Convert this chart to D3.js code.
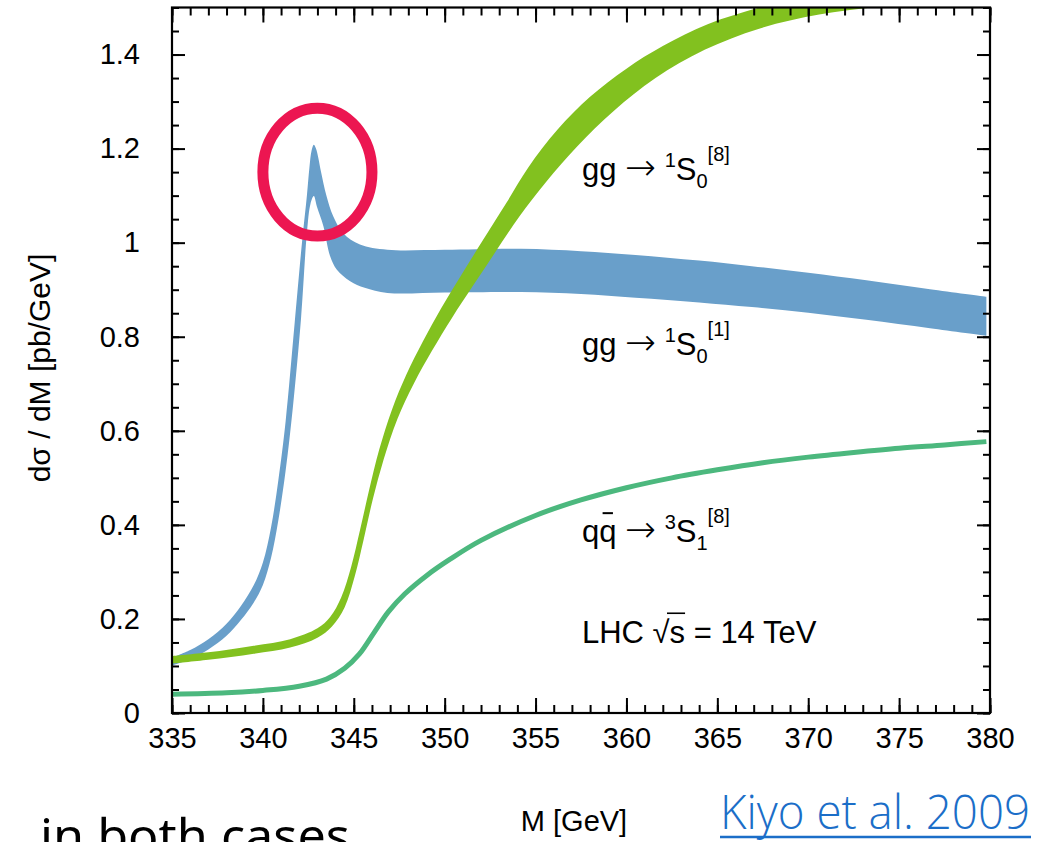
<!DOCTYPE html>
<html><head><meta charset="utf-8">
<script src="https://cdn.jsdelivr.net/npm/d3@7"></script>
<style>html,body{margin:0;padding:0;background:#fff;overflow:hidden;} svg{display:block;}</style>
</head><body>
<svg id="chart" width="1043" height="842"></svg>
<script>
// ---- data ----
const xTicks = [335, 340, 345, 350, 355, 360, 365, 370, 375, 380];
const xTickLabels = ["335", "340", "345", "350", "355", "360", "365", "370", "375", "380"];
const yTicks = [0, 0.2, 0.4, 0.6, 0.8, 1, 1.2, 1.4];
const yTickLabels = ["0", "0.2", "0.4", "0.6", "0.8", "1", "1.2", "1.4"];

// gg -> 1S0[1] band (upper / lower edges), [M, dsigma/dM]
const blueUpper = [
  [335.0, 0.118], [336.0, 0.134], [337.0, 0.157], [338.0, 0.19], [338.8, 0.228], [339.5, 0.272],
  [340.0, 0.32], [340.45, 0.395], [340.85, 0.495], [341.25, 0.62], [341.75, 0.83], [342.15, 1.0],
  [342.42, 1.1], [342.56, 1.16], [342.68, 1.196], [342.8, 1.208], [342.92, 1.2], [343.05, 1.18],
  [343.2, 1.15], [343.5, 1.099], [343.87, 1.056], [344.42, 1.02], [345.34, 0.996], [346.85, 0.985],
  [350.0, 0.985], [354.2, 0.987], [357.5, 0.982], [360.5, 0.974], [364.0, 0.962], [366.9, 0.950],
  [370.0, 0.936], [373.2, 0.920], [376.7, 0.901], [379.8, 0.885]
];
const blueLower = [
  [335.0, 0.101], [336.0, 0.115], [337.0, 0.135], [338.0, 0.164], [338.8, 0.198], [339.5, 0.235],
  [340.0, 0.272], [340.45, 0.33], [340.85, 0.41], [341.25, 0.515], [341.65, 0.65], [342.1, 0.84],
  [342.42, 1.02], [342.62, 1.083], [342.8, 1.099], [342.97, 1.077], [343.33, 1.035], [343.7, 0.971],
  [344.06, 0.943], [344.8, 0.918], [345.6, 0.904], [346.85, 0.893], [350.0, 0.894], [354.2, 0.895],
  [357.5, 0.891], [360.5, 0.883], [364.0, 0.873], [366.9, 0.863], [370.0, 0.851], [373.2, 0.836],
  [376.7, 0.818], [379.8, 0.802]
];

// gg -> 1S0[8] band
const greenUpper = [
  [335, 0.121], [337, 0.129], [339.5, 0.143], [341.5, 0.157], [343, 0.18], [343.7, 0.204],
  [344.3, 0.245], [344.85, 0.31], [345.35, 0.39], [345.85, 0.475], [346.4, 0.56], [347.1, 0.645],
  [347.9, 0.72], [348.8, 0.79], [349.8, 0.86], [350.9, 0.93], [352.1, 1.005], [353.4, 1.085],
  [354.6, 1.16], [356.2, 1.24], [358, 1.31], [360, 1.37], [362, 1.418], [364.5, 1.465],
  [367.3, 1.5], [370, 1.53]
];
const greenLower = [
  [335, 0.105], [337, 0.113], [339.5, 0.126], [341.5, 0.139], [343, 0.16], [343.8, 0.184],
  [344.5, 0.225], [345.05, 0.29], [345.55, 0.37], [346.05, 0.455], [346.65, 0.54], [347.4, 0.625],
  [348.3, 0.70], [349.3, 0.77], [350.4, 0.84], [351.5, 0.905], [352.7, 0.975], [354.1, 1.055],
  [355.6, 1.13], [357.3, 1.205], [359.3, 1.28], [361.6, 1.35], [364.3, 1.41], [367.3, 1.455],
  [370.6, 1.485], [374.7, 1.505], [378, 1.52]
];

// qqbar -> 3S1[8] line
const tealLine = [
  [335, 0.040], [338, 0.043], [340, 0.048], [342, 0.057], [343.5, 0.072], [344.5, 0.095],
  [345.3, 0.125], [346.1, 0.17], [346.9, 0.215], [347.8, 0.253], [349, 0.292], [350.3, 0.327],
  [352, 0.367], [355, 0.42], [357.5, 0.453], [360, 0.479], [362.5, 0.5], [365, 0.517],
  [367.5, 0.532], [370, 0.544], [372.5, 0.554], [375, 0.563], [377.5, 0.57], [379.8, 0.577]
];

// highlight ellipse around the peak (data coordinates)
const highlight = { x: 343.0, y: 1.15, rx: 3.0, ry: 0.136 };

// in-plot labels (data coordinates of baseline start)
const labelPositions = [
  { key: "g8", x: 357.55, y: 1.133 },
  { key: "g1", x: 357.55, y: 0.761 },
  { key: "q8", x: 357.55, y: 0.3636 },
  { key: "lhc", x: 357.55, y: 0.1488 }
];

// ---- drawing ----
const svg = d3.select("#chart");
const FONT = "'Liberation Sans', Arial, Helvetica, sans-serif";
const ARROWFONT = "'DejaVu Sans', sans-serif";
const x = d3.scaleLinear().domain([335, 380]).range([172, 990]);
const y = d3.scaleLinear().domain([0, 1.5]).range([713, 7.5]);

svg.append("rect").attr("width", 1043).attr("height", 842).attr("fill", "#fff");

svg.append("defs").append("clipPath").attr("id", "plotclip")
  .append("rect").attr("x", x(335)).attr("y", y(1.5))
  .attr("width", x(380) - x(335)).attr("height", y(0) - y(1.5));

const line = d3.line().x(d => x(d[0])).y(d => y(d[1])).curve(d3.curveCatmullRom.alpha(0.5));
function bandPath(up, lo) {
  const a = line(up);
  const b = line(lo.slice().reverse());
  return a + "L" + b.slice(1) + "Z";
}

const plot = svg.append("g").attr("clip-path", "url(#plotclip)");
plot.append("path").attr("d", bandPath(blueUpper, blueLower)).attr("fill", "#699fca");
plot.append("path").attr("d", bandPath(greenUpper, greenLower)).attr("fill", "#82c11f");
plot.append("path").attr("d", line(tealLine)).attr("fill", "none")
  .attr("stroke", "#4cb87e").attr("stroke-width", 5).attr("stroke-linecap", "butt");

// axes
const xMinor = d3.range(335, 381, 1);
const yMinor = d3.range(0, 1.5001, 0.05).map(v => +v.toFixed(2));

function styleAxis(g) {
  g.select(".domain").remove();
  g.selectAll("line").attr("stroke", "#000").attr("stroke-width", 2);
  g.selectAll("text").attr("font-family", FONT).attr("font-size", 29).attr("fill", "#000");
}

svg.append("g").attr("transform", `translate(0,${y(0)})`)
  .call(d3.axisBottom(x).tickValues(xMinor).tickSizeInner(-8).tickSizeOuter(0).tickFormat(""))
  .call(styleAxis);
svg.append("g").attr("transform", `translate(0,${y(0)})`)
  .call(d3.axisBottom(x).tickValues(xTicks).tickSizeInner(-15).tickSizeOuter(0).tickPadding(14)
    .tickFormat((d, i) => xTickLabels[i]))
  .call(styleAxis);
svg.append("g").attr("transform", `translate(0,${y(1.5)})`)
  .call(d3.axisTop(x).tickValues(xMinor).tickSizeInner(-8).tickSizeOuter(0).tickFormat(""))
  .call(styleAxis);
svg.append("g").attr("transform", `translate(0,${y(1.5)})`)
  .call(d3.axisTop(x).tickValues(xTicks).tickSizeInner(-15).tickSizeOuter(0).tickFormat(""))
  .call(styleAxis);

svg.append("g").attr("transform", `translate(${x(335)},0)`)
  .call(d3.axisLeft(y).tickValues(yMinor).tickSizeInner(-7).tickSizeOuter(0).tickFormat(""))
  .call(styleAxis);
svg.append("g").attr("transform", `translate(${x(335)},0)`)
  .call(d3.axisLeft(y).tickValues(yTicks).tickSizeInner(-13).tickSizeOuter(0).tickPadding(32)
    .tickFormat((d, i) => yTickLabels[i]))
  .call(styleAxis);
svg.append("g").attr("transform", `translate(${x(380)},0)`)
  .call(d3.axisRight(y).tickValues(yMinor).tickSizeInner(-7).tickSizeOuter(0).tickFormat(""))
  .call(styleAxis);
svg.append("g").attr("transform", `translate(${x(380)},0)`)
  .call(d3.axisRight(y).tickValues(yTicks).tickSizeInner(-13).tickSizeOuter(0).tickFormat(""))
  .call(styleAxis);

// frame
svg.append("rect").attr("x", x(335)).attr("y", y(1.5))
  .attr("width", x(380) - x(335)).attr("height", y(0) - y(1.5))
  .attr("fill", "none").attr("stroke", "#000").attr("stroke-width", 2.2);

// highlight ellipse
svg.append("ellipse")
  .attr("cx", x(highlight.x)).attr("cy", y(highlight.y))
  .attr("rx", x(335 + highlight.rx) - x(335)).attr("ry", y(0) - y(highlight.ry))
  .attr("fill", "none").attr("stroke", "#ec1651").attr("stroke-width", 11);

// axis titles
svg.append("text").attr("transform", "translate(50,368) rotate(-90)")
  .attr("text-anchor", "middle").attr("font-family", FONT).attr("font-size", 30)
  .text("dσ / dM [pb/GeV]");
svg.append("text").attr("x", 574).attr("y", 831)
  .attr("text-anchor", "middle").attr("font-family", FONT).attr("font-size", 29)
  .text("M [GeV]");

// in-plot labels
const BIG = 31, SMALL = 20;
function addLabel(pos, parts) {
  const t = svg.append("text").attr("x", x(pos.x)).attr("y", y(pos.y))
    .attr("font-family", FONT).attr("fill", "#000");
  parts.forEach(p => {
    const s = t.append("tspan").attr("font-size", p.s).attr("dy", p.dy || 0).text(p.t);
    if (p.f) s.attr("font-family", p.f).attr("font-weight", 200);
  });
  return t;
}
const lp = Object.fromEntries(labelPositions.map(d => [d.key, d]));
function procParts(initial, spin, sub, color) {
  return [{ t: initial + " ", s: BIG }, { t: "→", s: 37, f: ARROWFONT }, { t: " ", s: BIG },
    { t: spin, s: SMALL, dy: -13 }, { t: "S", s: BIG, dy: 13 },
    { t: sub, s: SMALL, dy: 8 }, { t: color, s: SMALL, dy: -27 }];
}
addLabel(lp.g8, procParts("gg", "1", "0", "[8]"));
addLabel(lp.g1, procParts("gg", "1", "0", "[1]"));
const q = addLabel(lp.q8, procParts("qq", "3", "1", "[8]"));
// overbar on second q
{
  const e = q.node().getExtentOfChar(1);
  const by = y(lp.q8.y) - 0.93 * BIG;
  svg.append("line").attr("x1", e.x + e.width * 0.2).attr("x2", e.x + e.width * 0.8)
    .attr("y1", by).attr("y2", by).attr("stroke", "#000").attr("stroke-width", 2);
}
const lhc = addLabel(lp.lhc, [{ t: "LHC √s = 14 TeV", s: BIG }]);
{
  const n = lhc.node();
  const e1 = n.getExtentOfChar(4), e2 = n.getExtentOfChar(5);
  const by = y(lp.lhc.y) - 0.96 * BIG;
  svg.append("line").attr("x1", e1.x + e1.width * 0.85).attr("x2", e2.x + e2.width)
    .attr("y1", by).attr("y2", by).attr("stroke", "#000").attr("stroke-width", 1.6);
}

// surrounding slide text
{
  const k = svg.append("text").attr("x", 0).attr("y", 0)
    .attr("font-family", "'Open Sans', 'Noto Sans', sans-serif").attr("font-weight", 300)
    .attr("font-size", 48).attr("fill", "#1b6ec8")
    .text("Kiyo et al. 2009");
  const w = k.node().getComputedTextLength();
  k.attr("transform", `translate(720,829) scale(${310 / w},1)`);
  svg.append("line").attr("x1", 720).attr("x2", 1031).attr("y1", 837).attr("y2", 837)
    .attr("stroke", "#1b6ec8").attr("stroke-width", 2.5);
}
{
  const t = svg.append("text").attr("x", 0).attr("y", 0)
    .attr("font-family", "'Noto Sans', 'Open Sans', sans-serif")
    .attr("font-size", 48).attr("fill", "#000")
    .text("in both cases");
  const w = t.node().getComputedTextLength();
  t.attr("transform", `translate(40,853) scale(${310 / w},1)`);
}
</script>
</body></html>
